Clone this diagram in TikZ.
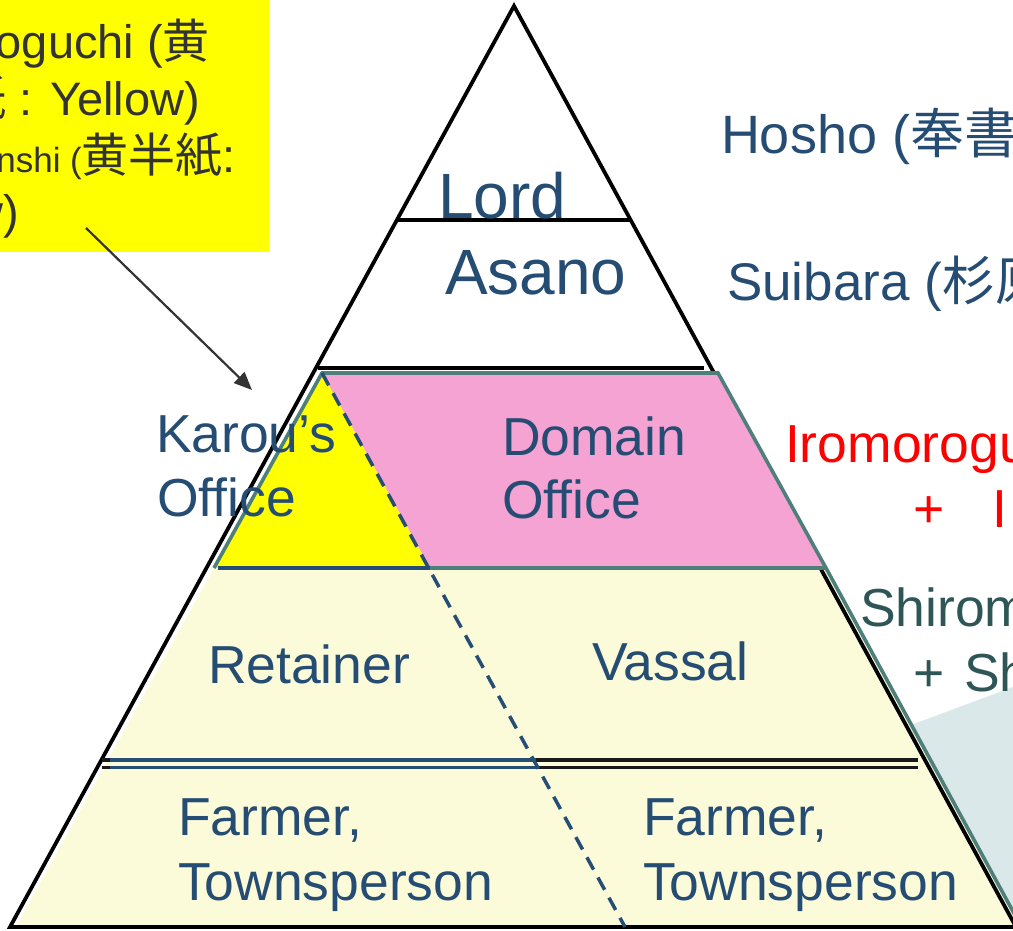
\documentclass[tikz,border=0pt]{standalone}
\usepackage{fontspec}
\setmainfont{Liberation Sans}
\newfontfamily\cjk{Noto Sans CJK JP}
\usetikzlibrary{arrows.meta}
\definecolor{txtblue}{HTML}{254C72}
\definecolor{pinkfill}{HTML}{F4A3D3}
\definecolor{lightyel}{HTML}{FBFBDA}
\definecolor{tealc}{HTML}{4F7F7B}
\definecolor{bluegray}{HTML}{DAE8EA}
\definecolor{darkteal}{HTML}{2F5656}
\definecolor{arrowgray}{HTML}{333333}
\definecolor{dashblue}{HTML}{264E74}
\definecolor{boxyel}{HTML}{FFFF00}
\begin{document}
\begin{tikzpicture}[x=1pt,y=-1pt,
  every node/.style={inner sep=0pt,outer sep=0pt},
  lbl/.style={anchor=base west,font=\fontsize{53.5}{62}\selectfont,text=txtblue},
  big/.style={lbl,font=\fontsize{64}{72}\selectfont},
  boxtxt/.style={anchor=base east,font=\fontsize{47}{54}\selectfont,text=arrowgray},
  outline/.style={line width=3.8pt,black,line join=miter},
  tealline/.style={line width=3.6pt,tealc},
  blueline/.style={line width=3.4pt,dashblue},
  blackdbl/.style={line width=3.4pt,black!90},
  dashline/.style={line width=3.5pt,dashblue,dash pattern=on 14pt off 9pt}]
\useasboundingbox (0,0) rectangle (1013,930);
\clip (0,0) rectangle (1013,930);
\fill[white] (0,0) rectangle (1013,930);

% background polygon at lower right
\fill[bluegray] (911,725) -- (1013,687) -- (1013,917) -- cycle;

% lower light yellow band
\fill[lightyel] (214,568) -- (826,568) -- (1016,917) -- (1016,927) -- (16,927) -- cycle;

% black pyramid outline
\coordinate (apex) at (514,6);
\coordinate (bl) at (10,927);
\coordinate (br) at (1016,927);
\draw[outline] (bl) -- (apex) -- (br) -- cycle;

% middle band: yellow triangle and pink quad
\coordinate (ya) at (322,373);
\coordinate (tr) at (718,373);
\coordinate (pr) at (826,568);
\coordinate (mid) at (430,568);
\coordinate (yl) at (214,568);
\fill[pinkfill] (ya) -- (tr) -- (pr) -- (mid) -- cycle;
\fill[boxyel] (ya) -- (mid) -- (yl) -- cycle;
\coordinate (tb) at (1016,917);
\draw[tealline] (yl) -- (ya) -- (tr) -- (pr) -- (tb);
\draw[tealline] (mid) -- (pr);
\draw[blueline] (218,568) -- (mid);

% horizontal black lines
\draw[outline] (397,220) -- (632,220);
\draw[outline] (318,368) -- (704,368);

% double lines
\draw[blackdbl] (102,760) -- (918,760);
\draw[blackdbl] (102,767.5) -- (918,767.5);
\draw[blueline] (110,760) -- (536,760);
\draw[blueline] (110,767.5) -- (536,767.5);

% dashed divider
\coordinate (dend) at (625,927);
\draw[dashline] (ya) -- (dend);

% pyramid labels
\node[big] (lord) at (438,218) {Lord};
\node[big] (asano) at (445,294) {Asano};
\node[lbl] (karou1) at (156,452) {Karou’s};
\node[lbl] (karou2) at (157,516) {Office};
\node[lbl] (dom1) at (502,455) {Domain};
\node[lbl] (dom2) at (502,518) {Office};
\node[lbl] (ret) at (208,683) {Retainer};
\node[lbl] (vas) at (592,680) {Vassal};
\node[lbl] (farm1) at (178,835) {Farmer,};
\node[lbl] (town1) at (178,900) {Townsperson};
\node[lbl] (farm2) at (643,835) {Farmer,};
\node[lbl] (town2) at (643,900) {Townsperson};

% right-hand labels
\node[lbl,font=\fontsize{54}{62}\selectfont] (hosho) at (721,153) {Hosho ({\cjk 奉書紙})};
\node[lbl,font=\fontsize{53}{62}\selectfont] (suibara) at (727,300) {Suibara ({\cjk 杉原紙})};
\node[lbl,text=red] (iro1) at (785,462) {Iromoroguchi};
\node[lbl,text=red] (iro2) at (913,527) {+\hspace{48pt}I};
\node[lbl,text=darkteal] (shi1) at (860,626) {Shiromoroguchi};
\node[lbl,text=darkteal] (shi2) at (913,691) {+\hspace{20pt}Sh};

% yellow note box
\fill[boxyel] (0,0) rectangle (269,252);
\node[boxtxt] (n1) at (210,58) {Kimoroguchi ({\cjk 黄}};
\node[boxtxt] (n2) at (200,115) {{\cjk 諸口紙} : Yellow)};
\node[boxtxt] (n3) at (236,172) {{\fontsize{35}{40}\selectfont Kihanshi (}{\cjk 黄半紙}:};
\node[boxtxt] (n4) at (19,228) {Yellow)};
\coordinate (arrS) at (86,228);
\coordinate (arrE) at (252,390);
\draw[-{Triangle[length=18pt,width=15pt]},line width=2.2pt,arrowgray] (arrS) -- (arrE);
\end{tikzpicture}
\end{document}
